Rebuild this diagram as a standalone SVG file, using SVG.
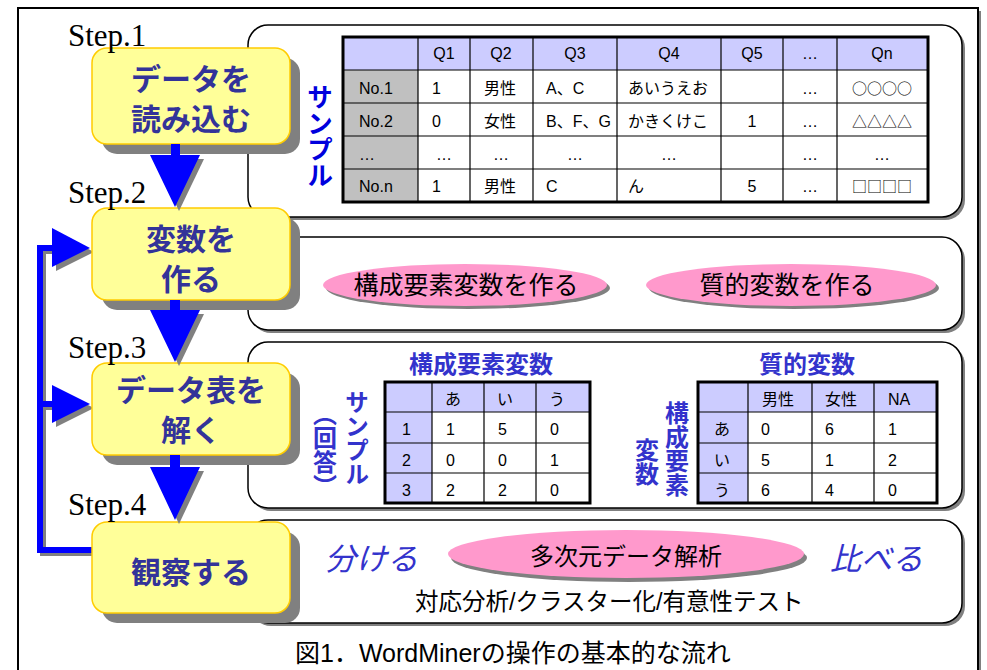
<svg xmlns="http://www.w3.org/2000/svg" width="987" height="670" viewBox="0 0 987 670">
<style>
.frame{fill:#fff;stroke:#000;stroke-width:2}
.fshadow{fill:#808080}
.panel{fill:#fff;stroke:#000;stroke-width:1.5}
.shadow{fill:#808080}
.box{fill:#FFFF99;stroke:#FFCC00;stroke-width:1.5}
.btxt{font-family:"Noto Sans CJK JP",sans-serif;font-weight:bold;font-size:30px;fill:#333399;text-anchor:middle}
.step{font-family:"Liberation Serif",serif;font-size:31px;fill:#000}
.cell{font-family:"Liberation Sans","Noto Sans CJK JP",sans-serif;font-size:16px;fill:#000}
.sym{font-family:"Noto Sans CJK JP",sans-serif;font-size:15px}
.mid{text-anchor:middle}
.grid{stroke:#000;stroke-width:1.2;fill:none}
.outer{stroke:#000;stroke-width:3;fill:none}
.lav{fill:#CCCCFF}
.gry{fill:#C0C0C0}
.wht{fill:#FFFFFF}
.arrow{fill:#0000FF}
.fb{stroke:#0000FF;stroke-width:6;fill:none}
.fbs{stroke:#808080;stroke-width:6;fill:none}
.pink{fill:#FF99CC}
.etxt{font-family:"Noto Sans CJK JP",sans-serif;font-size:25px;fill:#000;text-anchor:middle}
.vt1{font-family:"Noto Sans CJK JP",sans-serif;font-weight:bold;font-size:26px;fill:#0000DD;writing-mode:vertical-rl}
.vt{font-family:"Noto Sans CJK JP",sans-serif;font-weight:bold;font-size:24px;fill:#3333CC;writing-mode:vertical-rl}
.title{font-family:"Noto Sans CJK JP",sans-serif;font-weight:bold;font-size:24px;fill:#3333CC;text-anchor:middle}
.ital{font-family:"Noto Sans CJK JP",sans-serif;font-style:italic;font-size:31px;fill:#3333CC}
.jp{font-family:"Liberation Sans","Noto Sans CJK JP",sans-serif;font-size:23.5px;fill:#000}
.cap{font-family:"Liberation Sans","Noto Sans CJK JP",sans-serif;font-size:25px;fill:#000}
</style>

<!-- outer frame -->
<rect class="fshadow" x="21" y="11" width="960" height="700"/>
<rect class="frame" x="18" y="8" width="960" height="700"/>

<!-- panels -->
<g id="panel1">
<rect class="shadow" x="251" y="28" width="714" height="192" rx="20"/>
<rect class="panel" x="248" y="25" width="714" height="192" rx="20"/>
</g>
<g id="panel2">
<rect class="shadow" x="251" y="240" width="714" height="93" rx="20"/>
<rect class="panel" x="248" y="237" width="714" height="93" rx="20"/>
</g>
<g id="panel3">
<rect class="shadow" x="251" y="345" width="714" height="166" rx="20"/>
<rect class="panel" x="248" y="342" width="714" height="166" rx="20"/>
</g>
<g id="panel4">
<rect class="shadow" x="251" y="523" width="714" height="103" rx="20"/>
<rect class="panel" x="248" y="520" width="714" height="103" rx="20"/>
</g>

<!-- table 1 -->
<g id="table1">
<rect class="lav" x="343" y="37" width="585" height="33"/>
<rect class="gry" x="343" y="70" width="75" height="132"/>
<rect class="wht" x="418" y="70" width="510" height="132"/>
<path class="grid" d="M418,37V202M470,37V202M533,37V202M617,37V202M721,37V202M783,37V202M837,37V202M343,70H928M343,103H928M343,136H928M343,169H928"/>
<rect class="outer" x="343" y="37" width="585" height="165"/>
<g class="cell">
<text class="mid" x="444" y="59">Q1</text>
<text class="mid" x="501" y="59">Q2</text>
<text class="mid" x="575" y="59">Q3</text>
<text class="mid" x="669" y="59">Q4</text>
<text class="mid" x="752" y="59">Q5</text>
<text class="mid" x="810" y="59">…</text>
<text class="mid" x="882" y="59">Qn</text>
<text x="359" y="94">No.1</text>
<text x="432" y="94">1</text>
<text x="484" y="94">男性</text>
<text x="546" y="94">A、C</text>
<text x="628" y="94">あいうえお</text>
<text class="mid" x="810" y="94">…</text>
<text class="mid sym" x="882" y="94">○○○○</text>
<text x="359" y="127">No.2</text>
<text x="432" y="127">0</text>
<text x="484" y="127">女性</text>
<text x="546" y="127">B、F、G</text>
<text x="628" y="127">かきくけこ</text>
<text class="mid" x="752" y="127">1</text>
<text class="mid" x="810" y="127">…</text>
<text class="mid sym" x="882" y="127">△△△△</text>
<text x="359" y="160">…</text>
<text class="mid" x="444" y="160">…</text>
<text class="mid" x="501" y="160">…</text>
<text class="mid" x="575" y="160">…</text>
<text class="mid" x="669" y="160">…</text>
<text class="mid" x="810" y="160">…</text>
<text class="mid" x="882" y="160">…</text>
<text x="359" y="192">No.n</text>
<text x="432" y="192">1</text>
<text x="484" y="192">男性</text>
<text x="546" y="192">C</text>
<text x="628" y="192">ん</text>
<text class="mid" x="752" y="192">5</text>
<text class="mid" x="810" y="192">…</text>
<text class="mid sym" x="882" y="192">□□□□</text>
</g>
<text class="vt1" x="320" y="84">サンプル</text>
</g>

<!-- panel 2 ellipses -->
<g id="ellipse-kousei">
<ellipse class="shadow" cx="468" cy="288" rx="142" ry="21"/>
<ellipse class="pink" cx="465" cy="285" rx="142" ry="21"/>
<text class="etxt" x="466" y="294">構成要素変数を作る</text>
</g>
<g id="ellipse-shitsu">
<ellipse class="shadow" cx="794" cy="288" rx="145" ry="21"/>
<ellipse class="pink" cx="791" cy="285" rx="145" ry="21"/>
<text class="etxt" x="787" y="294">質的変数を作る</text>
</g>

<!-- table 2 -->
<g id="table2">
<text class="title" x="481" y="373">構成要素変数</text>
<rect class="lav" x="385" y="382" width="205" height="30"/>
<rect class="lav" x="385" y="412" width="47" height="91"/>
<rect class="wht" x="432" y="412" width="158" height="91"/>
<path class="grid" d="M432,382V503M484,382V503M536,382V503M385,412H590M385,443H590M385,473H590"/>
<rect class="outer" x="385" y="382" width="205" height="121"/>
<g class="cell">
<text x="445" y="405">あ</text><text x="497" y="405">い</text><text x="549" y="405">う</text>
<text x="402" y="435">1</text><text x="446" y="435">1</text><text x="498" y="435">5</text><text x="550" y="435">0</text>
<text x="402" y="466">2</text><text x="446" y="466">0</text><text x="498" y="466">0</text><text x="550" y="466">1</text>
<text x="402" y="496">3</text><text x="446" y="496">2</text><text x="498" y="496">2</text><text x="550" y="496">0</text>
</g>
<text class="vt" x="357" y="390">サンプル</text>
<text class="vt" x="325" y="402">（回答）</text>
</g>

<!-- table 3 -->
<g id="table3">
<text class="title" x="807" y="373">質的変数</text>
<rect class="lav" x="698" y="382" width="239" height="30"/>
<rect class="lav" x="698" y="412" width="50" height="91"/>
<rect class="wht" x="748" y="412" width="189" height="91"/>
<path class="grid" d="M748,382V503M812,382V503M874,382V503M698,412H937M698,443H937M698,473H937"/>
<rect class="outer" x="698" y="382" width="239" height="121"/>
<g class="cell">
<text x="762" y="405">男性</text><text x="825" y="405">女性</text><text x="888" y="405">NA</text>
<text x="714" y="435">あ</text><text x="761" y="435">0</text><text x="825" y="435">6</text><text x="888" y="435">1</text>
<text x="714" y="466">い</text><text x="761" y="466">5</text><text x="825" y="466">1</text><text x="888" y="466">2</text>
<text x="714" y="496">う</text><text x="761" y="496">6</text><text x="825" y="496">4</text><text x="888" y="496">0</text>
</g>
<text class="vt" x="677" y="401">構成要素</text>
<text class="vt" x="647" y="438">変数</text>
</g>

<!-- panel 4 content -->
<g id="panel4-content">
<text class="ital" x="325" y="570">分ける</text>
<ellipse class="shadow" cx="629" cy="558" rx="178" ry="24"/>
<ellipse class="pink" cx="626" cy="554" rx="178" ry="24"/>
<text class="etxt" x="626" y="565" style="font-size:24px">多次元データ解析</text>
<text class="ital" x="830" y="570">比べる</text>
<text class="jp" x="415" y="610">対応分析/クラスター化/有意性テスト</text>
</g>

<!-- connectors -->
<g id="connectors">
<path class="fbs" d="M95,553H43V251H58M43,407H58"/>
<polygon class="shadow" points="56,232 94,252 56,271"/>
<polygon class="shadow" points="56,389 94,408 56,427"/>
<path class="fb" d="M92,550H40V248H55M40,404H55"/>
<polygon class="arrow" points="52,228 90,248 52,267"/>
<polygon class="arrow" points="52,385 90,404 52,423"/>
</g>

<!-- step boxes -->
<g id="step1">
<rect class="shadow" x="102" y="58" width="198" height="96" rx="15"/>
<rect class="box" x="92" y="48" width="198" height="96" rx="15"/>
<text class="btxt" x="191" y="90">データを</text>
<text class="btxt" x="191" y="130">読み込む</text>
<text class="step" x="68" y="46">Step.1</text>
</g>
<g id="step2">
<rect class="shadow" x="102" y="218" width="198" height="92" rx="15"/>
<rect class="box" x="92" y="208" width="198" height="92" rx="15"/>
<text class="btxt" x="191" y="250">変数を</text>
<text class="btxt" x="191" y="290">作る</text>
<text class="step" x="68" y="203">Step.2</text>
</g>
<g id="step3">
<rect class="shadow" x="102" y="373" width="198" height="92" rx="15"/>
<rect class="box" x="92" y="363" width="198" height="92" rx="15"/>
<text class="btxt" x="191" y="401">データ表を</text>
<text class="btxt" x="191" y="441">解く</text>
<text class="step" x="68" y="358">Step.3</text>
</g>
<g id="step4">
<rect class="shadow" x="102" y="532" width="198" height="91" rx="15"/>
<rect class="box" x="92" y="522" width="198" height="91" rx="15"/>
<text class="btxt" x="191" y="583">観察する</text>
<text class="step" x="68" y="515">Step.4</text>
</g>

<!-- down arrows -->
<g id="down-arrows">
<polygon class="shadow" points="154,159 204,159 179,211"/>
<path class="arrow" d="M171,144H180V155H200L175,207L150,155H171Z"/>
<polygon class="shadow" points="154,314 204,314 179,366"/>
<path class="arrow" d="M170,300H180V310H200L175,362L150,310H170Z"/>
<polygon class="shadow" points="154,471 204,471 179,524"/>
<path class="arrow" d="M170,455H180V467H200L175,520L150,467H170Z"/>
</g>

<text class="cap" x="295" y="662">図1．WordMinerの操作の基本的な流れ</text>
</svg>
